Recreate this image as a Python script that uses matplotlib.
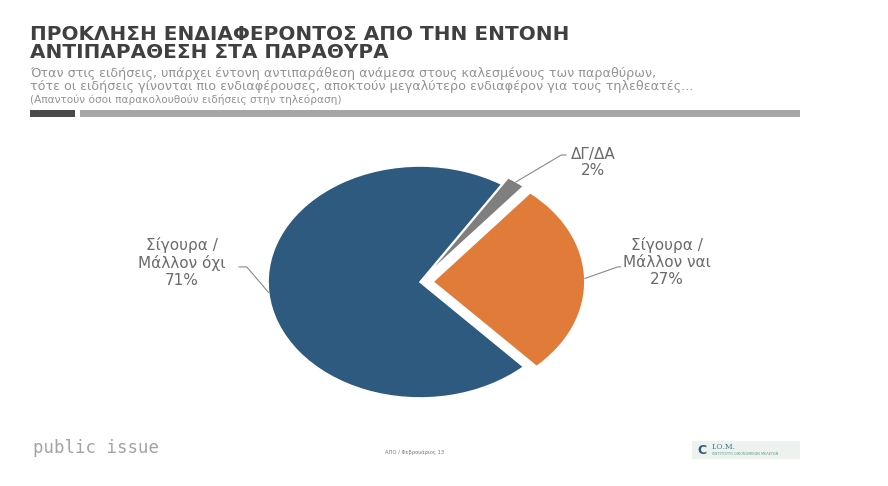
import numpy as np
import matplotlib
matplotlib.use('Agg')
import matplotlib.pyplot as plt
from matplotlib.patches import Rectangle

# survey answers (percent)
labels = ['Σίγουρα /\nΜάλλον ναι', 'ΔΓ/ΔΑ', 'Σίγουρα /\nΜάλλον όχι']
values = [27, 2, 71]
colors = ['#E07B39', '#7F7F7F', '#2E5A80']
explode = [0.085, 0.07, 0.0]

title_lines = ['ΠΡΟΚΛΗΣΗ ΕΝΔΙΑΦΕΡΟΝΤΟΣ ΑΠΟ ΤΗΝ ΕΝΤΟΝΗ',
               'ΑΝΤΙΠΑΡΑΘΕΣΗ ΣΤΑ ΠΑΡΑΘΥΡΑ']
sub_lines = ['Όταν στις ειδήσεις, υπάρχει έντονη αντιπαράθεση ανάμεσα στους καλεσμένους των παραθύρων,',
             'τότε οι ειδήσεις γίνονται πιο ενδιαφέρουσες, αποκτούν μεγαλύτερο ενδιαφέρον για τους τηλεθεατές...']
base_note = '(Απαντούν όσοι παρακολουθούν ειδήσεις στην τηλεόραση)'

W, H = 888, 486
fig = plt.figure(figsize=(W / 100, H / 100), dpi=100)
fig.patch.set_facecolor('white')


def fx(x):
    return x / W


def fy(y):
    return 1 - y / H


# pie axis spans the whole figure; the pie is drawn wider than tall
cx, cy, rx, ry = 420, 282, 152, 116
ax = fig.add_axes([0, 0, 1, 1])
wedges, _ = ax.pie(values, colors=colors, explode=explode, startangle=-47,
                   counterclock=True, radius=1,
                   wedgeprops=dict(edgecolor='white', linewidth=1.2))
ax.set_aspect('auto')
ax.set_xlim(-cx / rx, (W - cx) / rx)
ax.set_ylim(-(H - cy) / ry, cy / ry)
ax.axis('off')

# label positions and leader elbows (data units)
label_pos = [(1.625, 0.17), (1.14, 1.03), (-1.566, 0.17)]
elbows = [[(1.30, 0.13), (1.32, 0.13)],
          [(0.93, 1.095), (0.96, 1.095)],
          [(-1.14, 0.13), (-1.19, 0.13)]]
for w, lab, val, pos, elb, ex in zip(wedges, labels, values, label_pos, elbows, explode):
    mid = np.deg2rad((w.theta1 + w.theta2) / 2)
    x0 = (1 + ex) * np.cos(mid)
    y0 = (1 + ex) * np.sin(mid)
    xs = [x0] + [p[0] for p in elb]
    ys = [y0] + [p[1] for p in elb]
    ax.plot(xs, ys, color='#8a8a8a', lw=0.8)
    ax.text(pos[0], pos[1], f'{lab}\n{val}%', ha='center', va='center',
            fontsize=11, color='#6a6a6a', linespacing=1.15)

# header
fig.text(fx(30), fy(35), title_lines[0], fontsize=14.4, fontweight='bold',
         color='#404040', va='center', ha='left')
fig.text(fx(30), fy(53), title_lines[1], fontsize=14.4, fontweight='bold',
         color='#404040', va='center', ha='left')
fig.text(fx(30), fy(73.5), sub_lines[0], fontsize=9.2, color='#939393', va='center')
fig.text(fx(30), fy(86.5), sub_lines[1], fontsize=9.2, color='#939393', va='center')
fig.text(fx(30), fy(99.5), base_note, fontsize=7.6, color='#939393', va='center')

fig.patches.append(Rectangle((fx(30), fy(117)), fx(45), 7 / H, transform=fig.transFigure,
                             facecolor='#4a4a4a', edgecolor='none'))
fig.patches.append(Rectangle((fx(80), fy(117)), fx(720), 7 / H, transform=fig.transFigure,
                             facecolor='#a6a6a6', edgecolor='none'))

# footer
fig.text(fx(33), fy(448), 'public issue', fontsize=12.5, family='DejaVu Sans Mono',
         color='#a3a3a3', va='center')
fig.text(fx(415), fy(452), 'ΑΠΟ / Φεβρουάριος 13', fontsize=3.8, color='#777777',
         va='center', ha='center')
fig.patches.append(Rectangle((fx(692), fy(459)), fx(108), 18 / H, transform=fig.transFigure,
                             facecolor='#eef2ee', edgecolor='none'))
fig.text(fx(712), fy(447), 'Ι.Ο.Μ.', fontsize=5.5, color='#3a7a8a', va='center',
         family='DejaVu Serif')
fig.text(fx(712), fy(454), 'ΙΝΣΤΙΤΟΥΤΟ ΟΙΚΟΝΟΜΙΚΩΝ ΜΕΛΕΤΩΝ', fontsize=2.5,
         color='#5a9a8a', va='center')
fig.text(fx(697), fy(450), 'C', fontsize=9, color='#2E5A80', va='center',
         fontweight='bold')

fig.savefig('out.png', dpi=100, facecolor='white')
